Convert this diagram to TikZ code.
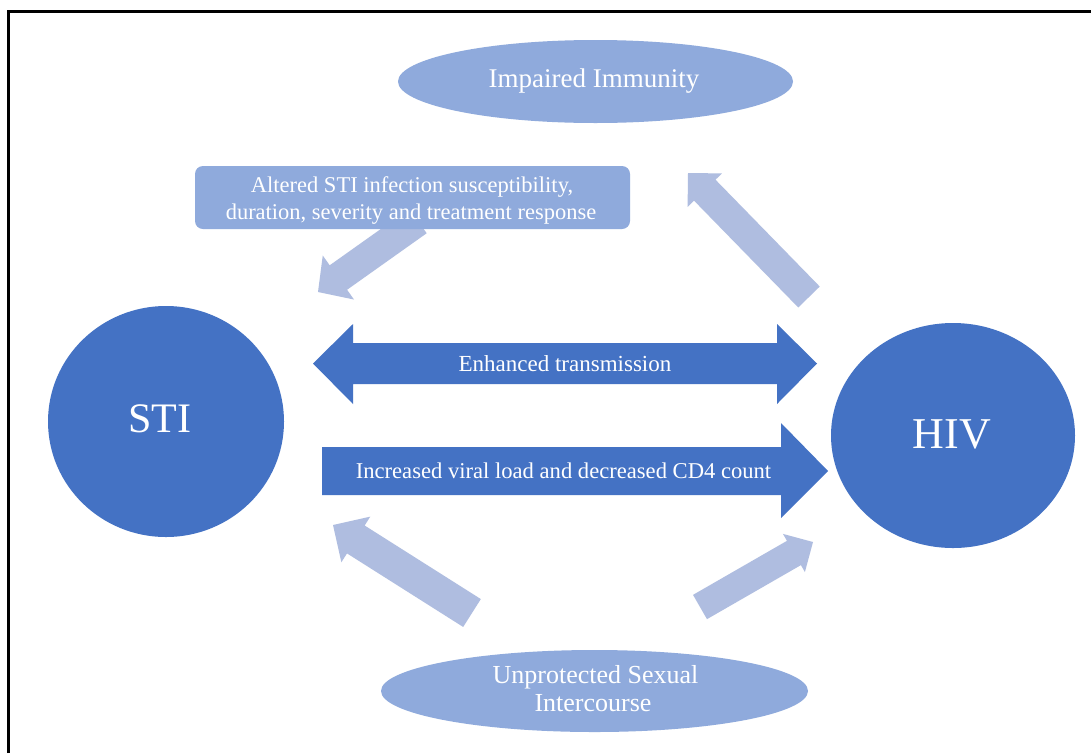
\documentclass[tikz,border=0pt]{standalone}
\usepackage{fontspec}
\setmainfont{Liberation Serif}
\usetikzlibrary{shapes.geometric,calc}

\definecolor{darkblue}{HTML}{4472C4}
\definecolor{midblue}{HTML}{8FAADC}
\definecolor{paleblue}{HTML}{AFBDE0}

% block arrow: tail, tip, half shaft width, half head width, head length
\newcommand\blockarrowpath[5]{%
  \path ($(#2)!#5!(#1)$) coordinate (hb);
  \fill[paleblue]
    ($(#1)!#3!90:(#2)$) -- ($(hb)!#3!90:(#2)$) -- ($(hb)!#4!90:(#2)$) --
    (#2) --
    ($(hb)!#4!-90:(#2)$) -- ($(hb)!#3!-90:(#2)$) -- ($(#1)!#3!-90:(#2)$) -- cycle;
}

\tikzset{
  blob/.style={ellipse, inner sep=0pt, fill=#1},
  lbl/.style={text=white, inner sep=0pt, anchor=base},
}

\begin{document}
\begin{tikzpicture}[x=1pt,y=-1pt]
\useasboundingbox (0,0) rectangle (1091,753);
\fill[white] (0,0) rectangle (1091,753);

% frame
\draw[line width=2.6pt] (8.5,753) -- (8.5,11.5) -- (1091,11.5);

% pale block arrows
\coordinate (a1tail) at (418,221);  \coordinate (a1tip) at (318,292);
\coordinate (a2tail) at (809,297);  \coordinate (a2tip) at (688,173);
\coordinate (a3tail) at (472,613);  \coordinate (a3tip) at (333,525);
\coordinate (a4tail) at (700,607);  \coordinate (a4tip) at (813,542);
\blockarrowpath{a1tail}{a1tip}{15pt}{27pt}{25pt}
\blockarrowpath{a2tail}{a2tip}{15pt}{24pt}{24pt}
\blockarrowpath{a3tail}{a3tip}{16.5pt}{27pt}{27pt}
\blockarrowpath{a4tail}{a4tip}{14pt}{22pt}{22pt}

% shapes
\node[blob=midblue, minimum width=395pt, minimum height=83pt] (imm) at (595.5,81.5) {};
\node[blob=midblue, minimum width=427pt, minimum height=82pt] (usi) at (594.5,691) {};
\node[blob=darkblue, minimum width=236pt, minimum height=231pt] (sti) at (166,421.5) {};
\node[blob=darkblue, minimum width=244pt, minimum height=225pt] (hiv) at (953,435.5) {};
\node[fill=midblue, rounded corners=8pt, inner sep=0pt, minimum width=435pt, minimum height=63pt] (alt) at (412.5,197.5) {};

% dark block arrows
\fill[darkblue] (313,363.5) -- (353,324) -- (353,343) -- (777,343) -- (777,324) -- (817,363.5)
  -- (777,404) -- (777,384) -- (353,384) -- (353,404) -- cycle;
\fill[darkblue] (322,447) -- (781,447) -- (781,423) -- (828,471) -- (781,518) -- (781,495)
  -- (322,495) -- cycle;

% texts
\node[lbl, font=\fontsize{27}{32}\selectfont] at (594,87) {Impaired Immunity};
\node[lbl, font=\fontsize{22.5}{27}\selectfont] at (412,192) {Altered STI infection susceptibility,};
\node[lbl, font=\fontsize{22.5}{27}\selectfont] at (411,219) {duration, severity and treatment response};
\node[lbl, font=\fontsize{42}{50}\selectfont] at (160,432) {STI};
\node[lbl, font=\fontsize{44}{50}\selectfont] at (952,448) {HIV};
\node[lbl, font=\fontsize{23}{27}\selectfont] at (565,371) {Enhanced transmission};
\node[lbl, font=\fontsize{22.6}{27}\selectfont] at (563.5,478) {Increased viral load and decreased CD4 count};
\node[lbl, font=\fontsize{26}{30}\selectfont] at (595.5,683) {Unprotected Sexual};
\node[lbl, font=\fontsize{26}{30}\selectfont] at (593,711) {Intercourse};
\end{tikzpicture}
\end{document}
